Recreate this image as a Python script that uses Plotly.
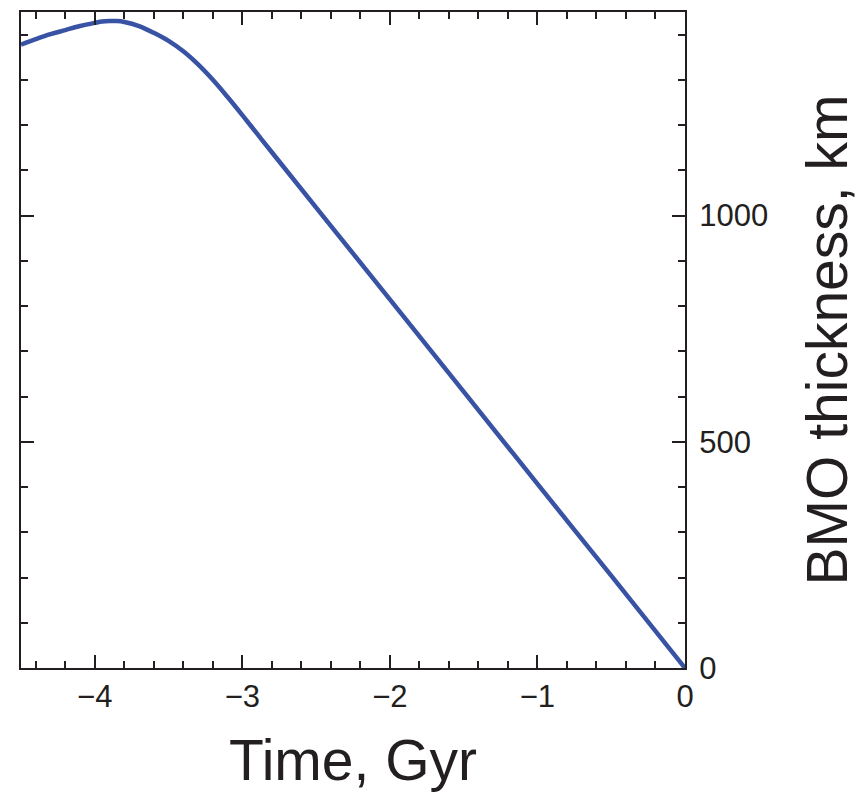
import plotly.graph_objects as go

time_gyr = [-4.5, -4.4, -4.3, -4.2, -4.1, -4.0, -3.95, -3.9, -3.85, -3.8, -3.7,
            -3.6, -3.5, -3.4, -3.3, -3.2, -3.1, -3.0, -2.9, -2.8, -2.2, -1.5,
            -1.0, -0.5, 0.0]
bmo_km = [1378, 1390, 1401, 1410, 1419, 1426, 1429, 1430, 1430, 1428, 1419,
          1404, 1386, 1363, 1334, 1300, 1262, 1222, 1181, 1140, 896, 611,
          407, 204, 0]

x_ticks = [-4, -3, -2, -1, 0]
y_ticks = [0, 500, 1000]

axis_color = "#231f20"
line_color = "#3953a4"
font_family = "Liberation Sans, Arial, Helvetica, sans-serif"

fig = go.Figure()
fig.add_trace(go.Scatter(
    x=time_gyr, y=bmo_km, mode="lines",
    line=dict(color=line_color, width=4.5, shape="spline", smoothing=1.0),
    showlegend=False,
))

fig.update_layout(
    width=859, height=792,
    margin=dict(l=21, r=174, t=10, b=120),
    paper_bgcolor="white", plot_bgcolor="white",
    font=dict(family=font_family, color=axis_color),
)

fig.update_xaxes(
    range=[-4.5, 0], tickvals=x_ticks,
    showgrid=False, zeroline=False,
    showline=True, linecolor=axis_color, linewidth=2, mirror="allticks",
    ticks="inside", ticklen=13, tickwidth=2, tickcolor=axis_color,
    tickfont=dict(size=31, color=axis_color),
    minor=dict(dtick=0.2, ticks="inside", ticklen=7, tickwidth=2, tickcolor=axis_color, showgrid=False),
    title=dict(text="Time, Gyr", font=dict(size=57, color=axis_color), standoff=28),
)

fig.update_yaxes(
    range=[0, 1450], tickvals=y_ticks, side="right",
    showgrid=False, zeroline=False,
    showline=True, linecolor=axis_color, linewidth=2, mirror="allticks",
    ticks="inside", ticklen=13, tickwidth=2, tickcolor=axis_color,
    tickfont=dict(size=31, color=axis_color), ticklabelstandoff=6,
    minor=dict(dtick=100, ticks="inside", ticklen=7, tickwidth=2, tickcolor=axis_color, showgrid=False),
    title=dict(text="BMO thickness, km", font=dict(size=57, color=axis_color), standoff=40),
)

fig.write_html("out.html")
